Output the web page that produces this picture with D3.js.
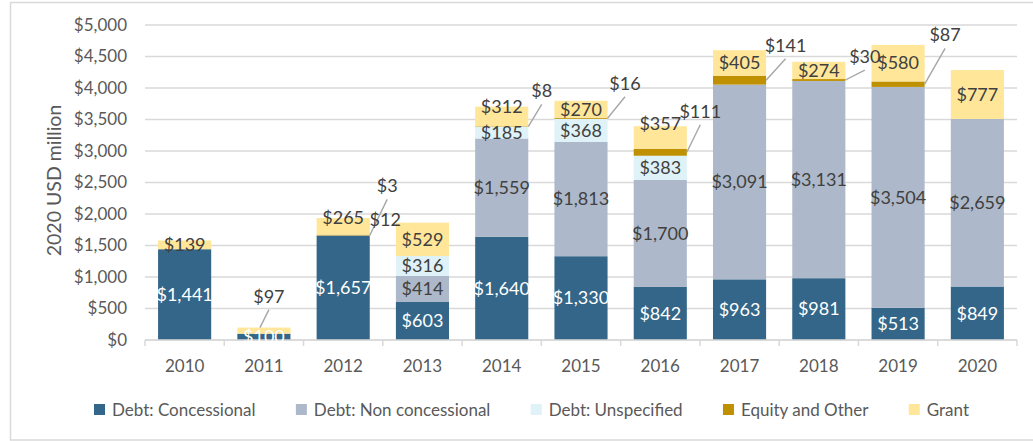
<!DOCTYPE html>
<html>
<head>
<meta charset="utf-8">
<script src="https://cdn.jsdelivr.net/npm/d3@7"></script>
<style>
  body { margin: 0; background: #fff; }
  text { font-family: Lato, "Open Sans", sans-serif; }
</style>
</head>
<body>
<div id="chart"></div>
<script>
// data
const years = ["2010", "2011", "2012", "2013", "2014", "2015", "2016", "2017", "2018", "2019", "2020"];
const concessional = [1441, 100, 1657, 603, 1640, 1330, 842, 963, 981, 513, 849];
const nonConcessional = [0, 0, 0, 414, 1559, 1813, 1700, 3091, 3131, 3504, 2659];
const unspecified = [0, 0, 3, 316, 185, 368, 383, 0, 0, 0, 0];
const equity = [0, 0, 12, 0, 8, 16, 111, 141, 30, 87, 0];
const grant = [139, 97, 265, 529, 312, 270, 357, 405, 274, 580, 777];
const seriesNames = ["Debt: Concessional", "Debt: Non concessional", "Debt: Unspecified", "Equity and Other", "Grant"];
const yTicks = [0, 500, 1000, 1500, 2000, 2500, 3000, 3500, 4000, 4500, 5000];

const colors = ["#336688", "#adb9ca", "#def2f8", "#bf9000", "#ffe699"];
const labelColors = ["#ffffff", "#404040", "#404040", "#404040", "#404040"];

// labels placed outside their segment (layout only)
// key "series-year": dx from bar centre, dy = baseline offset from segment top
const callouts = {
  "4-1": { dx: 5, dy: -25, line: true },
  "2-2": { dx: 44, dy: -43, line: true },
  "3-2": { dx: 42, dy: -9, line: false },
  "3-4": { dx: 40, dy: -29, line: true },
  "3-5": { dx: 44, dy: -28, line: true },
  "3-6": { dx: 40, dy: -31, line: true },
  "3-7": { dx: 46, dy: -24, line: true },
  "3-8": { dx: 46, dy: -16, line: true },
  "3-9": { dx: 47, dy: -40, line: true }
};
// small nudges for labels moved by hand in the original
const nudges = { "4-2": -9, "4-4": -10, "4-6": -14 };

const W = 1033, H = 441;
const margin = { top: 25, right: 16, bottom: 101, left: 145 };
const width = W - margin.left - margin.right;
const height = H - margin.top - margin.bottom;

const table = years.map((y, i) => ({
  year: y,
  s0: concessional[i], s1: nonConcessional[i], s2: unspecified[i], s3: equity[i], s4: grant[i]
}));
const keys = ["s0", "s1", "s2", "s3", "s4"];
const stacked = d3.stack().keys(keys)(table);

const svg = d3.select("#chart").append("svg")
  .attr("width", W).attr("height", H);

// outer chart border
svg.append("rect")
  .attr("x", 10.5).attr("y", 2.5)
  .attr("width", W).attr("height", 437.5)
  .attr("fill", "none").attr("stroke", "#d9d9d9").attr("stroke-width", 1.5);

const g = svg.append("g")
  .attr("transform", "translate(" + margin.left + "," + margin.top + ")");

const x = d3.scaleBand().domain(years).range([0, width]).paddingInner(0.33).paddingOuter(0.165);
const y = d3.scaleLinear().domain([0, 5000]).range([height, 0]);

// gridlines + y labels
g.append("g")
  .selectAll("line").data(yTicks).join("line")
  .attr("x1", 0).attr("x2", width)
  .attr("y1", d => y(d)).attr("y2", d => y(d))
  .attr("stroke", "#d9d9d9").attr("stroke-width", 1.5);

g.append("g")
  .selectAll("text").data(yTicks).join("text")
  .attr("x", -18).attr("y", d => y(d))
  .attr("dy", "0.35em")
  .attr("text-anchor", "end")
  .attr("fill", "#595959")
  .style("font-size", "17px")
  .text(d => "$" + d3.format(",")(d));

// y axis title
g.append("text")
  .attr("transform", "translate(-84," + (height / 2 - 2) + ")rotate(-90)")
  .attr("text-anchor", "middle")
  .attr("fill", "#595959")
  .style("font-size", "19.5px")
  .text("2020 USD million");

// bars
const layers = g.append("g").selectAll("g").data(stacked).join("g")
  .attr("fill", (d, i) => colors[i]);

layers.selectAll("rect").data(d => d).join("rect")
  .attr("x", d => x(d.data.year))
  .attr("width", x.bandwidth())
  .attr("y", d => y(d[1]))
  .attr("height", d => y(d[0]) - y(d[1]));

// x axis
const xAxis = g.append("g").attr("transform", "translate(0," + height + ")");
xAxis.append("line")
  .attr("x1", 0).attr("x2", width)
  .attr("stroke", "#d9d9d9").attr("stroke-width", 1.5);
xAxis.selectAll(".tk").data(d3.range(years.length + 1)).join("line")
  .attr("class", "tk")
  .attr("x1", i => i * x.step()).attr("x2", i => i * x.step())
  .attr("y1", 0).attr("y2", 6)
  .attr("stroke", "#d9d9d9").attr("stroke-width", 1.5);
xAxis.selectAll("text").data(years).join("text")
  .attr("x", d => x(d) + x.bandwidth() / 2)
  .attr("y", 26)
  .attr("dy", "0.35em")
  .attr("text-anchor", "middle")
  .attr("fill", "#595959")
  .style("font-size", "17px")
  .text(d => d);

// data labels
const labels = g.append("g");
stacked.forEach((layer, si) => {
  layer.forEach((d, yi) => {
    const v = d[1] - d[0];
    if (v <= 0) return;
    const key = si + "-" + yi;
    const cx = x(d.data.year) + x.bandwidth() / 2;
    const c = callouts[key];
    if (c) {
      const top = y(d[1]);
      const lx = cx + c.dx, ly = top + c.dy;
      if (c.line) {
        const ex = si === 4 ? cx - 4 : x(d.data.year) + x.bandwidth();
        const ey = si === 4 ? top : (y(d[0]) + y(d[1])) / 2;
        labels.append("line")
          .attr("x1", lx).attr("y1", ly + 7)
          .attr("x2", ex).attr("y2", ey)
          .attr("stroke", "#a6a6a6").attr("stroke-width", 1.4);
      }
      labels.append("text")
        .attr("x", lx).attr("y", ly)
        .attr("text-anchor", "middle")
        .attr("fill", "#404040")
        .style("font-size", "18px")
        .text("$" + d3.format(",")(v));
      return;
    }
    labels.append("text")
      .attr("x", cx)
      .attr("y", (y(d[0]) + y(d[1])) / 2 + (nudges[key] || 0))
      .attr("dy", "0.35em")
      .attr("text-anchor", "middle")
      .attr("fill", labelColors[si])
      .style("font-size", "18px")
      .text("$" + d3.format(",")(v));
  });
});

// legend spread between x=94 and x=969
const legend = svg.append("g").attr("transform", "translate(94,410)");
const items = seriesNames.map((name, i) => {
  const it = legend.append("g");
  it.append("rect")
    .attr("x", 0).attr("y", -6)
    .attr("width", 11).attr("height", 11)
    .attr("fill", colors[i]);
  const t = it.append("text")
    .attr("x", 18).attr("y", 0)
    .attr("dy", "0.35em")
    .attr("fill", "#595959")
    .style("font-size", "17px")
    .text(name);
  return { it, w: 18 + t.node().getComputedTextLength() };
});
const total = d3.sum(items, d => d.w);
const gap = (875 - total) / (items.length - 1);
let lx = 0;
items.forEach(d => {
  d.it.attr("transform", "translate(" + lx + ",0)");
  lx += d.w + gap;
});
</script>
</body>
</html>
